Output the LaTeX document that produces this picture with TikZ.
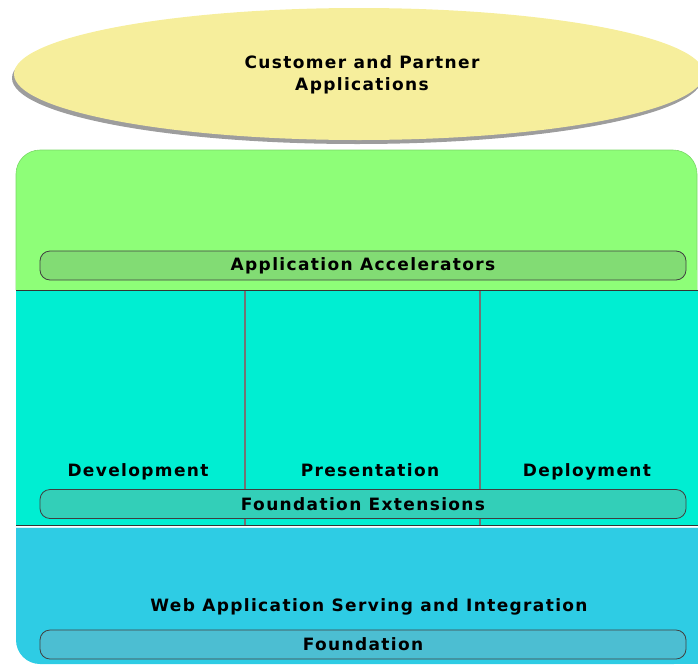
\documentclass[tikz,border=0pt]{standalone}
\usepackage{fontspec}
\setmainfont{DejaVu Sans}
\usetikzlibrary{shapes.geometric,shadows}

\definecolor{appyellow}{HTML}{F6EE9C}
\definecolor{accgreen}{HTML}{8EFE78}
\definecolor{accbar}{HTML}{82DC74}
\definecolor{extteal}{HTML}{00EED2}
\definecolor{extbar}{HTML}{33CFB8}
\definecolor{fndblue}{HTML}{2ECCE4}
\definecolor{fndbar}{HTML}{4CBED2}

\tikzset{
  label/.style={font=\bfseries\addfontfeature{LetterSpace=8}\fontsize{17}{22}\selectfont, align=center},
  layerbar/.style={draw=black!75, line width=0.8pt, rounded corners=10pt, minimum height=29pt, minimum width=646pt, inner sep=0pt},
  divider/.style={draw=black!55, line width=1.4pt}
}

\begin{document}
\begin{tikzpicture}[x=1pt,y=-1pt]
 \useasboundingbox (0,0) rectangle (698,664);
 % customer layer
 \node[ellipse, fill=appyellow, minimum width=690pt, minimum height=132pt,
   drop shadow={shadow xshift=-2pt, shadow yshift=-4pt, opacity=0.7, fill=black!55}] (apps) at (359,74) {};
 \node[label] (appstext) at (362,75) {Customer and Partner\\Applications};
 % application accelerators
 \draw[fill=accgreen, draw=accgreen!85!black, line width=0.6pt, rounded corners=24pt] (16,290) -- (16,150) -- (697,150) -- (697,290);
 \fill[accgreen] (16.3,270) rectangle (696.7,290);
 \draw[black!80, line width=1pt] (16,290) -- (698,290);
 \node[layerbar, fill=accbar] (accbar) at (363,265.5) {};
 \node[label] (acctext) at (accbar) {Application Accelerators};
 % foundation extensions
 \fill[extteal] (16,291) rectangle (698,525);
 \draw[black!80, line width=1pt] (16,525) -- (698,525);
 \draw[divider] (245,291) -- (245,525);
 \draw[divider] (480,291) -- (480,525);
 \node[label, anchor=base] (devtext) at (138,476) {Development};
 \node[label, anchor=base] (prestext) at (370,476) {Presentation};
 \node[label, anchor=base] (deptext) at (587,476) {Deployment};
 \node[layerbar, fill=extbar] (extbar) at (363,504) {};
 \node[label] (exttext) at (extbar) {Foundation Extensions};
 % foundation
 \draw[white!80!fndblue, line width=1pt] (16,527) -- (698,527);
 \fill[fndblue, rounded corners=24pt] (16,528) -- (16,664) -- (698,664) -- (698,528) -- cycle;
 \fill[fndblue] (16,528) rectangle (698,600);
 \fill[fndblue] (600,600) rectangle (698,664);
 \node[label] (fndtext) at (369,607) {Web Application Serving and Integration};
 \node[layerbar, fill=fndbar] (fndbar) at (363,644.5) {};
 \node[label] (fndbartext) at (fndbar) {Foundation};
\end{tikzpicture}
\end{document}
